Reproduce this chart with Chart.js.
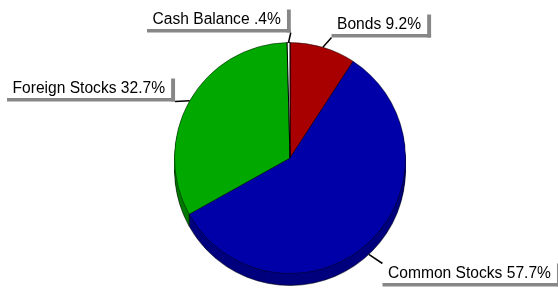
<!DOCTYPE html>
<html lang="en">
<head>
  <meta charset="UTF-8">
  <title>Asset allocation</title>
  <style>
    html, body { margin: 0; padding: 0; background: #fff; }
    #wrap { width: 558px; height: 300px; }
  </style>
</head>
<body>
  <div id="wrap"><canvas id="pie" width="558" height="300"></canvas></div>
  <script src="https://cdn.jsdelivr.net/npm/chart.js@4.4.1/dist/chart.umd.min.js"></script>
  <script>
  const labels = ['Bonds', 'Common Stocks', 'Foreign Stocks', 'Cash Balance'];
  const percents = [9.2, 57.7, 32.7, 0.4];
  const faceColors = ['#a80000', '#0000a8', '#00a800', '#ffffff'];
  const sideColors = ['#7a0000', '#00007e', '#007a00', '#bdbdbd'];

  // callout text placement: [left x, baseline y]
  const calloutPos = [[337, 28.5], [388, 277.5], [12.5, 92.5], [152.5, 23.5]];
  const depth = 12;

  const pctText = v => String(v).replace(/^0\./, '.') + '%';

  // extruded side of the pie
  const sidePlugin = {
    id: 'side',
    beforeDatasetsDraw(chart) {
      const ctx = chart.ctx;
      const arcs = chart.getDatasetMeta(0).data;
      ctx.save();
      for (let k = depth; k >= 1; k--) {
        arcs.forEach((a, i) => {
          const p = a.getProps(['x', 'y', 'startAngle', 'endAngle', 'outerRadius']);
          ctx.beginPath();
          ctx.moveTo(p.x, p.y + k);
          ctx.arc(p.x, p.y + k, p.outerRadius, p.startAngle, p.endAngle);
          ctx.closePath();
          ctx.fillStyle = sideColors[i];
          ctx.fill();
        });
      }
      const p0 = arcs[0].getProps(['x', 'y', 'outerRadius']);
      ctx.strokeStyle = 'rgba(0,0,0,0.55)';
      ctx.lineWidth = 1;
      ctx.beginPath();
      ctx.arc(p0.x, p0.y + depth, p0.outerRadius, 0, Math.PI);
      ctx.stroke();
      // seams where slices meet on the visible side
      arcs.forEach(a => {
        const p = a.getProps(['x', 'y', 'startAngle', 'outerRadius']);
        if (Math.sin(p.startAngle) > 0) {
          const sx = p.x + Math.cos(p.startAngle) * p.outerRadius;
          const sy = p.y + Math.sin(p.startAngle) * p.outerRadius;
          ctx.beginPath();
          ctx.moveTo(sx, sy);
          ctx.lineTo(sx, sy + depth);
          ctx.stroke();
        }
      });
      ctx.restore();
    }
  };

  // boxed labels with grey drop shadow and leader lines
  const calloutPlugin = {
    id: 'callouts',
    afterDatasetsDraw(chart) {
      const ctx = chart.ctx;
      const arcs = chart.getDatasetMeta(0).data;
      ctx.save();
      ctx.font = '15.6px "Liberation Sans", Arial, sans-serif';
      arcs.forEach((a, i) => {
        const p = a.getProps(['x', 'y', 'startAngle', 'endAngle', 'outerRadius']);
        const mid = (p.startAngle + p.endAngle) / 2;
        const ex = p.x + Math.cos(mid) * p.outerRadius;
        let ey = p.y + Math.sin(mid) * p.outerRadius;
        if (Math.sin(mid) > 0.3) ey += depth;

        const text = labels[i] + ' ' + pctText(percents[i]);
        const [tx, by] = calloutPos[i];
        const w = ctx.measureText(text).width;
        const left = tx - 5.5, right = tx + w + 6, top = by - 14, bottom = by + 5.5;

        const corners = [[left, top], [right + 4, top], [left, bottom + 3.5], [right + 4, bottom + 3.5]];
        let best = corners[0], bd = Infinity;
        corners.forEach(c => {
          const d = Math.hypot(c[0] - ex, c[1] - ey);
          if (d < bd) { bd = d; best = c; }
        });
        ctx.strokeStyle = '#000';
        ctx.lineWidth = 1.5;
        ctx.beginPath();
        ctx.moveTo(ex, ey);
        ctx.lineTo(best[0], best[1]);
        ctx.stroke();

        ctx.fillStyle = '#878787';
        ctx.fillRect(right, top, 4, bottom - top + 3.5);
        ctx.fillRect(left, bottom, right + 4 - left, 3.5);
        ctx.fillStyle = '#fff';
        ctx.fillRect(left, top, right - left, bottom - top);
        ctx.fillStyle = '#000';
        ctx.textBaseline = 'alphabetic';
        ctx.fillText(text, tx, by);
      });
      ctx.restore();
    }
  };

  new Chart(document.getElementById('pie'), {
    type: 'pie',
    data: {
      labels: labels,
      datasets: [{
        data: percents,
        backgroundColor: faceColors,
        borderColor: ['rgba(0,0,0,0.45)', 'rgba(0,0,0,0.45)', 'rgba(0,0,0,0.45)', '#000'],
        borderWidth: 1,
        hoverOffset: 0
      }]
    },
    options: {
      responsive: false,
      animation: false,
      events: [],
      layout: { padding: { left: 174, right: 152, top: 42, bottom: 26 } },
      plugins: {
        legend: { display: false },
        tooltip: { enabled: false }
      }
    },
    plugins: [sidePlugin, calloutPlugin]
  });
  </script>
</body>
</html>
